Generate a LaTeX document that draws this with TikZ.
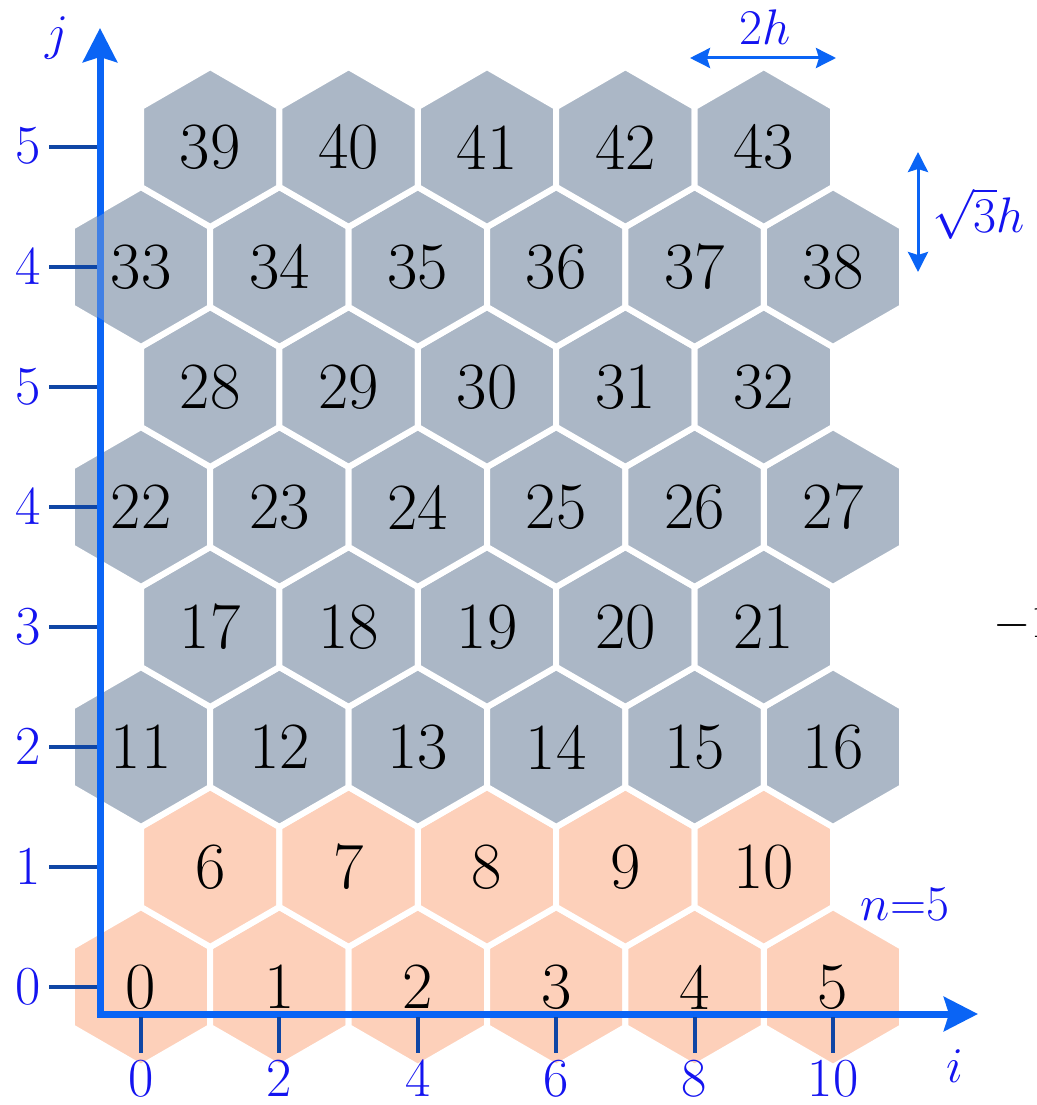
\documentclass[tikz,border=0pt]{standalone}
\usepackage{fix-cm}
\usetikzlibrary{shapes.geometric,arrows.meta}
\definecolor{hexgray}{RGB}{171,183,198}
\definecolor{hexorange}{RGB}{253,208,186}
\definecolor{axisblue}{RGB}{10,100,245}
\definecolor{tickblue}{RGB}{15,70,165}
\definecolor{labelblue}{RGB}{20,20,240}
\begin{document}
\begin{tikzpicture}[x=1pt,y=-1pt,
  hex/.style={regular polygon, regular polygon sides=6, shape border rotate=30,
    minimum size=159.8pt, inner sep=0pt, outer sep=0pt, draw=white, line width=6pt,
    line join=miter, font=\fontsize{66}{66}\selectfont},
  hexo/.style={hex, fill=hexorange},
  hexg/.style={hex, fill=hexgray},
  axisline/.style={draw=axisblue, line width=7pt, line join=miter,
    arrows={Stealth[length=34pt, width=34pt, inset=5pt]-Stealth[length=34pt, width=34pt, inset=5pt]}},
  tickline/.style={draw=tickblue, line width=4pt},
  ticklbl/.style={text=labelblue, font=\fontsize{55}{55}\selectfont, inner sep=0pt, anchor=base},
  mathlbl/.style={text=labelblue, font=\fontsize{50}{50}\selectfont, inner sep=0pt, anchor=base},
  dimline/.style={draw=axisblue, line width=3pt,
    arrows={Stealth[length=20pt, width=20pt, inset=3pt]-Stealth[length=20pt, width=20pt, inset=3pt]}}
]
\useasboundingbox (0,0) rectangle (1036,1105);

% hexagons
\foreach \r/\base/\cnt/\xo/\sty in {0/0/5/141/hexo, 1/6/4/210.2/hexo, 2/11/5/141/hexg, 3/17/4/210.2/hexg,
  4/22/5/141/hexg, 5/28/4/210.2/hexg, 6/33/5/141/hexg, 7/39/4/210.2/hexg}{
  \foreach \k in {0,...,\cnt}{
    \pgfmathtruncatemacro\n{\base+\k}
    \node[\sty] (h\n) at ({\xo+138.4*\k},{987-120*\r}) {\n};
  }
}

% axes
\coordinate (O) at (100,1014);
\coordinate (ytop) at (100,28);
\coordinate (xend) at (978,1014);
\draw[axisline] (ytop) -- (O) -- (xend);

% veil of hexagon 33 over the axis (only on the axis strip)
\begin{scope}
  \clip (95,190) rectangle (105,345);
  \node[regular polygon, regular polygon sides=6, shape border rotate=30, minimum size=150pt,
    fill=hexgray, fill opacity=0.35, draw=none, inner sep=0pt] (h33veil) at (h33.center) {};
\end{scope}

% ticks on the j axis
\foreach \lab [count=\r from 0] in {0,1,2,3,4,5,4,5}{
  \coordinate (yt\r) at (97,{987-120*\r});
  \coordinate (ys\r) at (49,{987-120*\r});
  \draw[tickline] (ys\r) -- (yt\r);
  \node[ticklbl] (yl\r) at (28,{1004-120*\r}) {\lab};
}
% ticks on the i axis
\foreach \lab [count=\k from 0] in {0,2,4,6,8,10}{
  \coordinate (xt\k) at ({141+138.4*\k},1017);
  \coordinate (xs\k) at ({141+138.4*\k},1053);
  \draw[tickline] (xt\k) -- (xs\k);
  \node[ticklbl] (xl\k) at ({141+138.4*\k},1096) {\lab};
}

% axis names
\node[mathlbl] (jlab) at (57,50) {$j$};
\node[mathlbl] (ilab) at (955,1082) {$i$};
\node[mathlbl] (nlab) at (905,920) {$n{=}5$};

% dimension arrows
\coordinate (wa) at (690,58);
\coordinate (wb) at (836,58);
\draw[dimline] (wa) -- (wb);
\node[mathlbl] (twoh) at (765,45) {$2h$};
\coordinate (va) at (918,152);
\coordinate (vb) at (918,272);
\draw[dimline] (va) -- (vb);
\node[mathlbl, anchor=base west] (s3h) at (932,232) {$\sqrt{3}h$};

% cut-off text at the right edge
\node[font=\fontsize{48}{48}\selectfont, inner sep=0pt, anchor=base west] (minus) at (993,637) {$-1$};
\end{tikzpicture}
\end{document}
